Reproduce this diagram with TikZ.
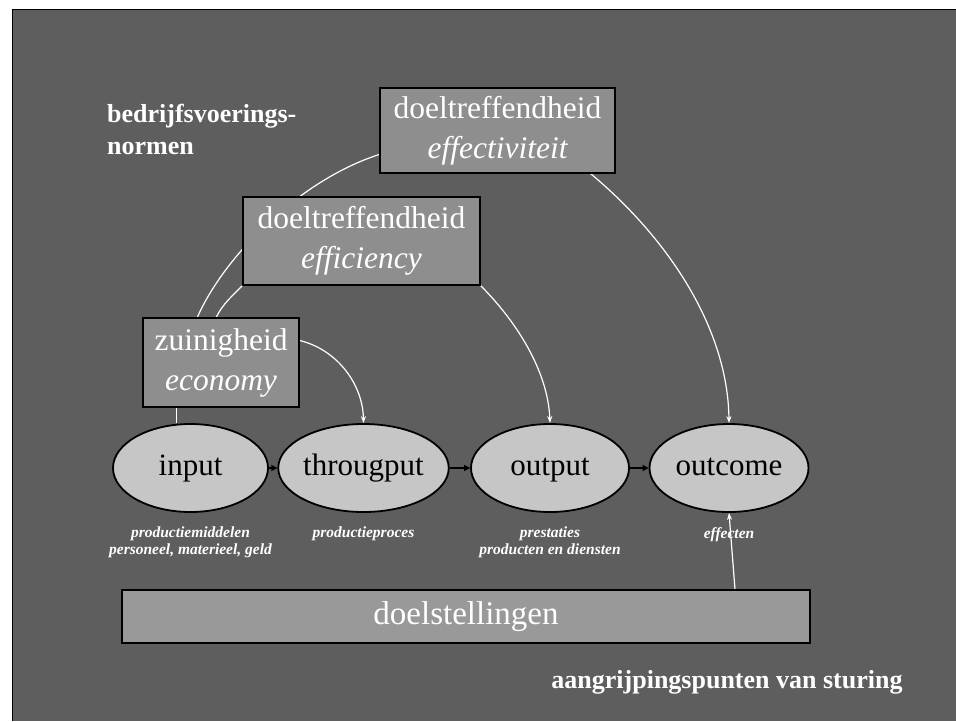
\documentclass[tikz,border=0pt]{standalone}
\usepackage{fontspec}
\setmainfont{Liberation Serif}
\usetikzlibrary{shapes.geometric,arrows.meta,calc,backgrounds}
\definecolor{bggray}{HTML}{5E5E5E}
\definecolor{boxgray}{HTML}{8E8E8E}
\definecolor{barray}{HTML}{999999}
\definecolor{ellgray}{HTML}{C6C6C6}
\begin{document}
\begin{tikzpicture}[x=1pt,y=-1pt,
  normbox/.style={draw=black, line width=1.6pt, fill=boxgray, text=white, align=center,
    inner sep=0pt, font=\fontsize{31.5}{40}\selectfont},
  stage/.style={ellipse, draw=black, line width=1.8pt, fill=ellgray, text=black,
    minimum width=157pt, minimum height=88pt, inner sep=0pt, text height=20pt, text depth=6pt,
    font=\fontsize{31}{36}\selectfont},
  note/.style={text=white, font=\fontsize{15.5}{16.5}\selectfont\bfseries\itshape, align=center, inner sep=0pt, anchor=north},
  heading/.style={text=white, font=\fontsize{26}{32}\selectfont\bfseries, inner sep=0pt},
  link/.style={white, line width=1.2pt},
  linkarrow/.style={link, -{Stealth[length=7pt,width=5pt]}},
  flow/.style={black, line width=1.6pt, -{Triangle[length=6pt,width=6pt]}}]
\useasboundingbox (0,0) rectangle (956,721);
\begin{pgfonlayer}{background}
  \fill[white] (0,0) rectangle (956,721);
  \fill[bggray] (12,9) rectangle (956,721);
  \draw[black, line width=1pt] (12.5,721) -- (12.5,9.5) -- (956,9.5);
\end{pgfonlayer}

% norm boxes
\node[normbox, minimum width=235pt, minimum height=85pt] (eff) at (497.5,130.5)
  {doeltreffendheid\\\itshape effectiviteit};
\node[normbox, minimum width=237pt, minimum height=88pt] (effi) at (361.5,241)
  {doeltreffendheid\\\itshape efficiency};
\node[normbox, minimum width=156pt, minimum height=89pt] (zu) at (221,362.5)
  {zuinigheid\\\itshape economy};

% stages
\node[stage, minimum width=155pt] (in) at (190.5,468) {input};
\node[stage, minimum width=161pt] (th) at (363.5,468) {througput};
\node[stage, minimum width=158pt] (out) at (550,468) {output};
\node[stage, minimum width=159pt] (oc) at (729,468) {outcome};

% notes
\node[note] (nin) at ([yshift=-14pt]in.south) {productiemiddelen\\personeel, materieel, geld};
\node[note] (nth) at ([yshift=-14pt]th.south) {productieproces};
\node[note] (nout) at ([yshift=-14pt]out.south) {prestaties\\producten en diensten};
\node[note] (noc) at ([yshift=-14pt]oc.south) {effecten};

% goals bar
\node[draw=black, line width=1.6pt, fill=barray, text=white, inner sep=0pt,
  minimum width=688pt, minimum height=53pt, font=\fontsize{33}{36}\selectfont] (doel) at (466,616.5) {doelstellingen};

% headings
\node[heading, align=left, anchor=west] (norm) at (107,129) {bedrijfsvoerings-\\normen};
\node[heading] (sturing) at (727,682) {aangrijpingspunten van sturing};

% flow arrows
\draw[flow] (in.east) -- (th.west);
\draw[flow] (th.east) -- (out.west);
\draw[flow] (out.east) -- (oc.west);

% connectors (behind boxes)
\begin{pgfonlayer}{background}
  \coordinate (effL) at ([yshift=-24pt]eff.west);
  \coordinate (zuTa) at ($(zu.north west)!0.35!(zu.north east)$);
  \coordinate (zuTb) at ($(zu.north west)!0.47!(zu.north east)$);
  \coordinate (zuB) at ($(zu.south west)!0.22!(zu.south east)$);
  \coordinate (zuR) at ([yshift=22pt]zu.east);
  \coordinate (effB) at ([xshift=-25pt]eff.south east);
  \draw[link] (effL) .. controls (300,180) and (225,255) .. (zuTa);
  \draw[link] (effi.south west) .. controls (232,296) and (222,305) .. (zuTb);
  \draw[link] (zuB) -- (zuB |- in.north);
  \draw[linkarrow] (zuR) .. controls (338,350) and (363,385) .. (th.north);
  \draw[linkarrow] (effi.south east) .. controls (515,320) and (548,370) .. (out.north);
  \draw[linkarrow] (effB) .. controls (670,240) and (728,330) .. (oc.north);
  \draw[linkarrow] ([xshift=6pt]doel.north -| oc.south) -- (oc.south);
\end{pgfonlayer}
\end{tikzpicture}
\end{document}
